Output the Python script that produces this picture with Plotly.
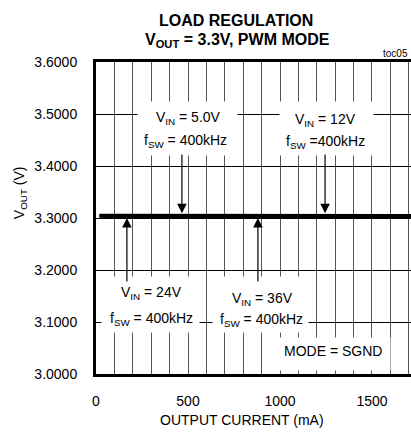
import plotly.graph_objects as go

# Data
current_ma = [20, 200, 400, 600, 800, 1000, 1200, 1400, 1600, 1750]
vout_5v = [3.3046, 3.3046, 3.3045, 3.3045, 3.3045, 3.3044, 3.3044, 3.3044, 3.3044, 3.3044]
vout_12v = [3.3044, 3.3044, 3.3044, 3.3043, 3.3043, 3.3043, 3.3043, 3.3042, 3.3042, 3.3042]
vout_24v = [3.3042, 3.3042, 3.3042, 3.3041, 3.3041, 3.3041, 3.3040, 3.3040, 3.3040, 3.3040]
vout_36v = [3.3040, 3.3040, 3.3040, 3.3039, 3.3039, 3.3039, 3.3038, 3.3038, 3.3038, 3.3038]
series_names = ["VIN = 5.0V", "VIN = 12V", "VIN = 24V", "VIN = 36V"]
x_ticks = [0, 500, 1000, 1500]
y_ticks = [3.0, 3.1, 3.2, 3.3, 3.4, 3.5, 3.6]
y_tick_labels = ["3.0000", "3.1000", "3.2000", "3.3000", "3.4000", "3.5000", "3.6000"]

FONT = "Liberation Sans, Arial, sans-serif"

fig = go.Figure()
for name, ys in zip(series_names, [vout_5v, vout_12v, vout_24v, vout_36v]):
    fig.add_trace(go.Scatter(x=current_ma, y=ys, mode="lines", name=name,
                             line=dict(color="black", width=3.5), showlegend=False))

fig.update_layout(
    width=411, height=432,
    margin=dict(l=96, r=0, t=62, b=58),
    plot_bgcolor="white", paper_bgcolor="white",
    font=dict(family=FONT, size=14, color="black"),
)
fig.update_xaxes(
    range=[0, 1712], tickvals=x_ticks, showgrid=True, gridcolor="#555", gridwidth=1,
    minor=dict(dtick=100, tick0=0, showgrid=True, gridcolor="#555", gridwidth=1),
    showline=True, linecolor="black", linewidth=3, mirror=True,
    zeroline=False, ticks="", ticklabelstandoff=12,
    tickfont=dict(family=FONT, size=14),
)
fig.update_yaxes(
    range=[3.0, 3.6], tickvals=y_ticks, ticktext=y_tick_labels,
    showgrid=True, gridcolor="black", gridwidth=1,
    showline=True, linecolor="black", linewidth=3, mirror=False,
    zeroline=False, ticks="", ticklabelstandoff=13,
    tickfont=dict(family=FONT, size=14),
)

ann = []
# titles
ann.append(dict(text="<b>LOAD REGULATION</b>", xref="paper", yref="paper", x=0.444, y=1.134,
                showarrow=False, font=dict(size=16, family=FONT), xanchor="center", yanchor="middle"))
ann.append(dict(text="<b>V<sub>OUT</sub> = 3.3V, PWM MODE</b>", xref="paper", yref="paper", x=0.448, y=1.07,
                showarrow=False, font=dict(size=16, family=FONT), xanchor="center", yanchor="middle"))
ann.append(dict(text="toc05", xref="paper", yref="paper", x=0.998, y=1.0, showarrow=False,
                font=dict(size=10, family=FONT), xanchor="right", yanchor="bottom", yshift=1))
# axis titles
ann.append(dict(text="V<sub>OUT</sub> (V)", xref="paper", yref="paper", x=-0.241, y=0.58, textangle=-90,
                showarrow=False, font=dict(size=14, family=FONT), xanchor="center", yanchor="middle"))
ann.append(dict(text="OUTPUT CURRENT (mA)", xref="paper", yref="paper", x=0.463, y=-0.147,
                showarrow=False, font=dict(size=14, family=FONT), xanchor="center", yanchor="middle"))

# white boxes behind the labels: (x center, y center, width px, height px)
boxes = [
    (497, 3.4721, 99, 53),
    (1253, 3.4721, 93, 53),
    (296, 3.1337, 97, 55),
    (894, 3.1337, 95, 55),
    (1299, 3.0385, 110, 32),
]
for x, y, w, h in boxes:
    ann.append(dict(text=" ", x=x, y=y, xref="x", yref="y", showarrow=False, bgcolor="white",
                    borderpad=0, width=w, height=h, xanchor="center", yanchor="middle"))

# label texts, one annotation per line
labels = [
    ("V<sub>IN</sub> = 5.0V", 500, 3.4923),
    ("f<sub>SW</sub> = 400kHz", 487, 3.448),
    ("V<sub>IN</sub> = 12V", 1250, 3.488),
    ("f<sub>SW</sub> =400kHz", 1248, 3.446),
    ("V<sub>IN</sub> = 24V", 302, 3.156),
    ("f<sub>SW</sub> = 400kHz", 299, 3.106),
    ("V<sub>IN</sub> = 36V", 905, 3.145),
    ("f<sub>SW</sub> = 400kHz", 897, 3.103),
    ("MODE = SGND", 1288, 3.044),
]
for t, x, y in labels:
    ann.append(dict(text=t, x=x, y=y, xref="x", yref="y", showarrow=False,
                    font=dict(size=14, family=FONT), xanchor="center", yanchor="middle"))

# arrows (tip, tail)
arrows = [
    (467, 3.309, 467, 3.425),
    (1245, 3.309, 1245, 3.425),
    (168, 3.300, 168, 3.175),
    (880, 3.300, 880, 3.175),
]
for x, y, ax, ay in arrows:
    ann.append(dict(text="", x=x, y=y, ax=ax, ay=ay, xref="x", yref="y", axref="x", ayref="y",
                    showarrow=True, arrowhead=2, arrowsize=1.6, arrowwidth=1.2, arrowcolor="black",
                    standoff=0, startstandoff=0))
fig.update_layout(annotations=ann)

fig.write_html("out.html", config={"displayModeBar": False},
               post_script="document.body.style.margin='0';")
